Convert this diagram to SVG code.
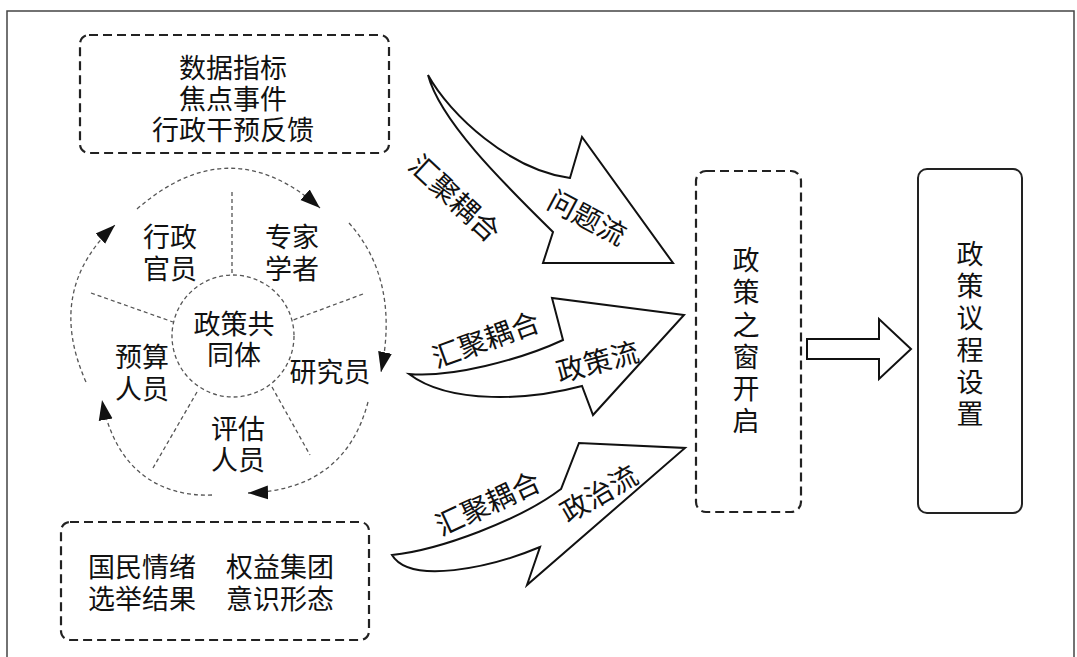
<svg xmlns="http://www.w3.org/2000/svg" width="1077" height="657" viewBox="0 0 1077 657">
<style>
text{font-family:"Noto Sans CJK SC","Noto Sans",sans-serif;fill:#111;text-anchor:middle;dominant-baseline:central}
.t{font-size:27px}
.a{font-size:28px}
.box{fill:none;stroke:#222;stroke-width:2.2;stroke-dasharray:9 5}
.cyc{fill:none;stroke:#555;stroke-width:1.3;stroke-dasharray:4 3}
.big{fill:#fff;stroke:#111;stroke-width:2;stroke-linejoin:miter}
</style>
<defs>
<marker id="ah" markerWidth="22" markerHeight="16" refX="20" refY="8" orient="auto" markerUnits="userSpaceOnUse">
<path d="M0,1 L20,8 L0,15 Z" fill="#111"/>
</marker>
</defs>
<rect x="7" y="11" width="1067" height="650" fill="#fff" stroke="#444" stroke-width="1.5"/>

<g id="connectors">
<path class="cyc" d="M137,209 Q230,128 320,208" marker-end="url(#ah)"/>
<path class="cyc" d="M349,223 Q400,280 381,372" marker-end="url(#ah)"/>
<path class="cyc" d="M368,402 Q345,490 248,493" marker-end="url(#ah)"/>
<path class="cyc" d="M212,495 C160,497 115,470 102,400" marker-end="url(#ah)"/>
<path class="cyc" d="M86,382 Q45,290 115,225" marker-end="url(#ah)"/>
<g id="flow-problem">
<path class="big" d="M428,75 C450,115 510,170 570,178 L582,137 L673,263 L543,263 L553,232 C500,180 440,120 428,75 Z"/>
<text class="a" transform="translate(456,197) rotate(43)">汇聚耦合</text>
<text class="a" transform="translate(588,216) rotate(28)">问题流</text>
</g>
<g id="flow-policy">
<path class="big" d="M409,374 C450,378 520,360 563,340 L552,298 L684,315 L593,415 L582,386 C530,400 450,405 409,374 Z"/>
<text class="a" transform="translate(485,338) rotate(-20)">汇聚耦合</text>
<text class="a" transform="translate(597,360) rotate(-15)">政策流</text>
</g>
<g id="flow-politics">
<path class="big" d="M392,555 C440,550 520,520 561,489 L579,443 L685,448 L527,585 L540,547 C490,568 410,585 392,555 Z"/>
<text class="a" transform="translate(487,502) rotate(-25)">汇聚耦合</text>
<text class="a" transform="translate(598,492) rotate(-30)">政治流</text>
</g>
<path class="big" d="M807,339 L879,339 L879,319 L911,349 L879,379 L879,359 L807,359 Z"/>
</g>

<g id="problem-sources">
<rect class="box" x="80" y="35" width="309" height="118" rx="9"/>
<text class="t" x="233" y="66">数据指标</text>
<text class="t" x="233" y="97">焦点事件</text>
<text class="t" x="233" y="128">行政干预反馈</text>
</g>

<g id="policy-community">
<circle class="cyc" cx="233" cy="336" r="61"/>
<line class="cyc" x1="232" y1="192" x2="232" y2="275"/>
<line class="cyc" x1="363" y1="294" x2="293" y2="320"/>
<line class="cyc" x1="91" y1="293" x2="173" y2="322"/>
<line class="cyc" x1="197" y1="392" x2="153" y2="468"/>
<line class="cyc" x1="272" y1="387" x2="310" y2="455"/>
<text class="t" x="234" y="322">政策共</text>
<text class="t" x="234" y="353">同体</text>
<text class="t" x="170" y="235">行政</text>
<text class="t" x="170" y="267">官员</text>
<text class="t" x="292" y="235">专家</text>
<text class="t" x="292" y="267">学者</text>
<text class="t" x="142" y="355">预算</text>
<text class="t" x="142" y="387">人员</text>
<text class="t" x="330" y="370">研究员</text>
<text class="t" x="238" y="427">评估</text>
<text class="t" x="238" y="458">人员</text>
</g>

<g id="politics-sources">
<rect class="box" x="61" y="522" width="308" height="118" rx="9"/>
<text class="t" x="142" y="565">国民情绪</text>
<text class="t" x="280" y="565">权益集团</text>
<text class="t" x="142" y="597">选举结果</text>
<text class="t" x="280" y="597">意识形态</text>
</g>

<g id="policy-window">
<rect class="box" x="696" y="171" width="105" height="341" rx="10"/>
<text class="t" x="746" y="258">政</text>
<text class="t" x="746" y="290">策</text>
<text class="t" x="746" y="323">之</text>
<text class="t" x="746" y="355">窗</text>
<text class="t" x="746" y="387">开</text>
<text class="t" x="746" y="419">启</text>
</g>

<g id="agenda-setting">
<rect x="918" y="169" width="104" height="344" rx="9" fill="#fff" stroke="#222" stroke-width="2"/>
<text class="t" x="970" y="252">政</text>
<text class="t" x="970" y="284">策</text>
<text class="t" x="970" y="316">议</text>
<text class="t" x="970" y="348">程</text>
<text class="t" x="970" y="380">设</text>
<text class="t" x="970" y="412">置</text>
</g>
</svg>
